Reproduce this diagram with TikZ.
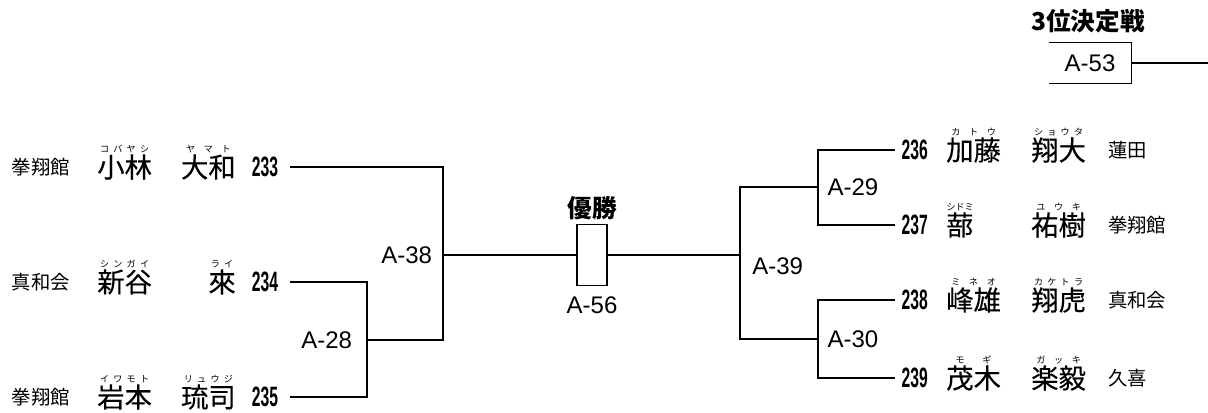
\documentclass[tikz,border=0pt]{standalone}
\usepackage{fontspec}
\setsansfont{Liberation Sans}
\newfontfamily\jp{Noto Sans CJK JP}
\newfontfamily\jpm[FakeBold=0.3]{Noto Sans CJK JP}
\usetikzlibrary{positioning}
\newcommand{\furi}[2]{\makebox[#1][s]{#2}}
\newcommand{\kg}{\hfil\hfil}
\newcommand{\seedno}[1]{\scalebox{0.56}[1]{\bfseries #1}}

\begin{document}
\begin{tikzpicture}[
  x=0.75pt, y=-0.75pt,
  line/.style={line width=0.9pt},
  club/.style={font=\jp\fontsize{14.5}{14.5}\selectfont, inner sep=0pt},
  player/.style={font=\jpm\fontsize{20.5}{20.5}\selectfont, inner sep=0pt},
  kana/.style={font=\jp\fontsize{6.8}{6.8}\selectfont, inner sep=0pt},
  seed/.style={font=\sffamily\fontsize{21}{21}\selectfont, inner sep=0pt},
  seedL/.style={seed, anchor=east, outer xsep=9pt},
  seedR/.style={seed, anchor=west, outer xsep=5pt},
  match/.style={font=\sffamily\fontsize{18}{18}\selectfont, inner sep=0pt},
  title/.style={font=\jp\bfseries\fontsize{18.5}{18.5}\selectfont, inner sep=0pt},
  rb/.style={label={[kana, label distance=0.5pt]above:#1}}
]
\useasboundingbox (0,0) rectangle (1208,412);

% left block
\node[club] (c233) at (41,167) {拳翔館};
\node[player, anchor=west, rb={\furi{40pt}{\hfil コ\kg バ\kg ヤ\kg シ\hfil}}] (f233) at (97,167) {小林};
\node[player, anchor=east, rb={\furi{40pt}{\hfil ヤ\kg マ\kg ト\hfil}}] (g233) at (236,167) {大和};
\node[seedL] (p233) at (290,167) {\seedno{233}};

\node[club] (c234) at (41,282) {真和会};
\node[player, anchor=west, rb={\furi{40pt}{\hfil シ\kg ン\kg ガ\kg イ\hfil}}] (f234) at (97,282) {新谷};
\node[player, anchor=east, rb={\furi{20pt}{\hfil ラ\kg イ\hfil}}] (g234) at (236,282) {來};
\node[seedL] (p234) at (290,282) {\seedno{234}};

\node[club] (c235) at (41,397) {拳翔館};
\node[player, anchor=west, rb={\furi{40pt}{\hfil イ\kg ワ\kg モ\kg ト\hfil}}] (f235) at (97,397) {岩本};
\node[player, anchor=east, rb={\furi{40pt}{\hfil リ\kg ュ\kg ウ\kg ジ\hfil}}] (g235) at (236,397) {琉司};
\node[seedL] (p235) at (290,397) {\seedno{235}};

% right block
\node[seedR] (p236) at (895,150) {\seedno{236}};
\node[player, anchor=west, rb={\furi{40pt}{\hfil カ\kg ト\kg ウ\hfil}}] (f236) at (946,150) {加藤};
\node[player, anchor=west, rb={\furi{40pt}{\hfil シ\kg ョ\kg ウ\kg タ\hfil}}] (g236) at (1031,150) {翔大};
\node[club, anchor=west] (c236) at (1108,150) {蓮田};

\node[seedR] (p237) at (895,225) {\seedno{237}};
\node[player, anchor=west, rb={\furi{20pt}{シ\hfil ド\hfil ミ}}] (f237) at (946,225) {蔀};
\node[player, anchor=west, rb={\furi{40pt}{\hfil ユ\kg ウ\kg キ\hfil}}] (g237) at (1031,225) {祐樹};
\node[club, anchor=west] (c237) at (1108,225) {拳翔館};

\node[seedR] (p238) at (895,300) {\seedno{238}};
\node[player, anchor=west, rb={\furi{40pt}{\hfil ミ\kg ネ\kg オ\hfil}}] (f238) at (946,300) {峰雄};
\node[player, anchor=west, rb={\furi{40pt}{\hfil カ\kg ケ\kg ト\kg ラ\hfil}}] (g238) at (1031,300) {翔虎};
\node[club, anchor=west] (c238) at (1108,300) {真和会};

\node[seedR] (p239) at (895,378) {\seedno{239}};
\node[player, anchor=west, rb={\furi{40pt}{\hfil モ\kg ギ\hfil}}] (f239) at (946,378) {茂木};
\node[player, anchor=west, rb={\furi{40pt}{\hfil ガ\kg ッ\kg キ\hfil}}] (g239) at (1031,378) {楽毅};
\node[club, anchor=west] (c239) at (1108,378) {久喜};

% junctions
\coordinate (j28) at (367,340);
\coordinate (q38) at (443,255);
\coordinate (q39) at (740,255);
\coordinate (j29) at (818,187);
\coordinate (j30) at (818,339);

% final
\node[draw, line, minimum width=22.5pt, minimum height=45.75pt, inner sep=0pt] (final) at (592,255) {};
\node[title, above=3pt of final] (win) {優勝};
\node[match, below=8pt of final] (m56) {A-56};

\draw[line] (p234.east) -| (j28) |- (p235.east);
\draw[line] (p233.east) -| (q38) |- (j28);
\draw[line] (q38) -- (final.west);
\draw[line] (final.east) -- (q39);
\draw[line] (p236.west) -| (j29) |- (p237.west);
\draw[line] (p238.west) -| (j30) |- (p239.west);
\draw[line] (j29) -| (q39) |- (j30);

\node[match, left=11pt of j28] (m28) {A-28};
\node[match, left=8pt of q38] (m38) {A-38};
\node[match, below right=2pt and 9pt of q39] (m39) {A-39};
\node[match, right=7pt of j29] (m29) {A-29};
\node[match, right=7pt of j30] (m30) {A-30};

% third place
\node[title] (third) at (1088,21) {3位決定戦};
\node[match, minimum width=61.5pt, minimum height=30pt] (m53) at (1090,63) {A-53};
\coordinate (r53) at (1208,63);
\draw[line] (m53.north west) -- (m53.north east) -- (m53.south east) -- (m53.south west);
\draw[line] (m53.east) -- (r53);
\end{tikzpicture}
\end{document}
